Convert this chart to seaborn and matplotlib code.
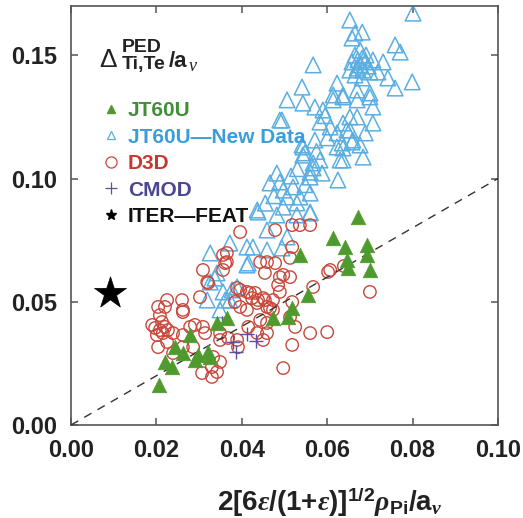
import numpy as np
import pandas as pd
import matplotlib
matplotlib.use("Agg")
import matplotlib.pyplot as plt
import seaborn as sns
from matplotlib.lines import Line2D
from matplotlib import font_manager as fm

# ---------------- data ----------------
jt60u_x = [0.0206, 0.0220, 0.0237, 0.0244, 0.0262, 0.0279, 0.0290, 0.0297, 0.0321,
           0.0326, 0.0342, 0.0365, 0.0473, 0.0508, 0.0518, 0.0536, 0.0555, 0.0614,
           0.0642, 0.0646, 0.0649, 0.0672, 0.0693, 0.0693, 0.0700]
jt60u_y = [0.0162, 0.0256, 0.0235, 0.0316, 0.0292, 0.0365, 0.0264, 0.0284, 0.0296,
           0.0276, 0.0414, 0.0434, 0.0434, 0.0438, 0.0475, 0.0690, 0.0527, 0.0759,
           0.0722, 0.0669, 0.0637, 0.0844, 0.0730, 0.0690, 0.0629]

new_x = [0.0326, 0.0415, 0.0342, 0.0326, 0.0356, 0.0319, 0.0361, 0.0349, 0.0372, 0.0377,
         0.0438, 0.0459, 0.0372, 0.0412, 0.0426, 0.0459, 0.0494, 0.0506, 0.0412, 0.0337,
         0.0389, 0.0560, 0.0529, 0.0482,
         0.0494, 0.0541, 0.0571, 0.0543, 0.0583, 0.0567, 0.0560, 0.0588, 0.0625, 0.0630,
         0.0482, 0.0466, 0.0489, 0.0497, 0.0506, 0.0520, 0.0536, 0.0560, 0.0436, 0.0497,
         0.0529, 0.0560, 0.0583, 0.0607, 0.0623, 0.0637, 0.0653, 0.0653, 0.0635, 0.0658,
         0.0670,
         0.0543, 0.0571, 0.0590, 0.0614, 0.0637, 0.0670, 0.0700, 0.0707, 0.0689, 0.0646,
         0.0623, 0.0637, 0.0660, 0.0677, 0.0684, 0.0637, 0.0543, 0.0548, 0.0567, 0.0560,
         0.0801, 0.0653, 0.0665, 0.0682, 0.0658, 0.0759, 0.0771, 0.0731, 0.0742, 0.0759,
         0.0799, 0.0719, 0.0707, 0.0700, 0.0707, 0.0670, 0.0623, 0.0614, 0.0637, 0.0567,
         0.0541, 0.0506, 0.0489,
         0.0665, 0.0672, 0.0682, 0.0689, 0.0677, 0.0670, 0.0684, 0.0696, 0.0658, 0.0691,
         0.0677, 0.0700, 0.0665, 0.0682, 0.0653,
         0.0515, 0.0548, 0.0575, 0.0600, 0.0475, 0.0455, 0.0530, 0.0595]
new_y = [0.0698, 0.0657, 0.0617, 0.0580, 0.0540, 0.0507, 0.0507, 0.0467, 0.0507, 0.0548,
         0.0864, 0.0791, 0.0738, 0.0722, 0.0722, 0.0710, 0.0718, 0.0763, 0.0649, 0.0596,
         0.0560, 0.0860, 0.0852, 0.0852,
         0.1237, 0.1136, 0.1156, 0.1095, 0.1075, 0.1043, 0.1006, 0.1022, 0.0994, 0.1075,
         0.1022, 0.0982, 0.0986, 0.0953, 0.0925, 0.0966, 0.0925, 0.0941, 0.0872, 0.0884,
         0.0901, 0.0864, 0.1229, 0.1209, 0.1185, 0.1225, 0.1250, 0.1197, 0.1144, 0.1148,
         0.1250,
         0.1306, 0.1290, 0.1278, 0.1339, 0.1339, 0.1319, 0.1347, 0.1225, 0.1185, 0.1197,
         0.1128, 0.1124, 0.1156, 0.1136, 0.1087, 0.1075, 0.1128, 0.1104, 0.1063, 0.1026,
         0.1671, 0.1643, 0.1590, 0.1594, 0.1570, 0.1542, 0.1513, 0.1473, 0.1408, 0.1367,
         0.1392, 0.1432, 0.1481, 0.1331, 0.1290, 0.1359, 0.1387, 0.1319, 0.1331, 0.1461,
         0.1371, 0.1319, 0.1237,
         0.1501, 0.1481, 0.1489, 0.1473, 0.1461, 0.1448, 0.1440, 0.1456, 0.1473, 0.1501,
         0.1521, 0.1432, 0.1420, 0.1408, 0.1440,
         0.1010, 0.0975, 0.1110, 0.1165, 0.0930, 0.0900, 0.1040, 0.1255]

d3d_x = [0.0396, 0.0518, 0.0536, 0.0560, 0.0478, 0.0365, 0.0365, 0.0443, 0.0459, 0.0478,
         0.0513, 0.0518, 0.0309, 0.0356, 0.0489, 0.0602, 0.0319, 0.0485, 0.0389, 0.0513,
         0.0567, 0.0225, 0.0260, 0.0302, 0.0419, 0.0438, 0.0454, 0.0473, 0.0424, 0.0436,
         0.0459, 0.0384, 0.0396, 0.0204, 0.0220, 0.0208, 0.0262, 0.0412, 0.0473, 0.0513,
         0.0279, 0.0290, 0.0309, 0.0314, 0.0190, 0.0197, 0.0208, 0.0220, 0.0227, 0.0201,
         0.0215, 0.0239, 0.0262, 0.0204, 0.0225, 0.0349, 0.0349, 0.0368, 0.0389, 0.0415,
         0.0436, 0.0450, 0.0459, 0.0459, 0.0525, 0.0560, 0.0600, 0.0518, 0.0391, 0.0333,
         0.0349, 0.0330, 0.0307, 0.0330, 0.0342, 0.0497, 0.0700, 0.0239, 0.0262, 0.0286,
         0.0356, 0.0361, 0.0321, 0.0262, 0.0213, 0.0396, 0.0412, 0.0431, 0.0454, 0.0497,
         0.0489, 0.0450, 0.0466, 0.0518, 0.0639, 0.0607, 0.0443]
d3d_y = [0.0783, 0.0811, 0.0811, 0.0811, 0.0791, 0.0698, 0.0661, 0.0661, 0.0661, 0.0657,
         0.0678, 0.0722, 0.0629, 0.0629, 0.0600, 0.0621, 0.0580, 0.0568, 0.0556, 0.0600,
         0.0560, 0.0507, 0.0507, 0.0519, 0.0536, 0.0507, 0.0507, 0.0507, 0.0515, 0.0495,
         0.0479, 0.0499, 0.0479, 0.0479, 0.0479, 0.0446, 0.0467, 0.0467, 0.0467, 0.0438,
         0.0398, 0.0406, 0.0398, 0.0373, 0.0406, 0.0394, 0.0385, 0.0398, 0.0385, 0.0365,
         0.0373, 0.0373, 0.0365, 0.0316, 0.0337, 0.0373, 0.0345, 0.0353, 0.0345, 0.0398,
         0.0373, 0.0345, 0.0414, 0.0373, 0.0398, 0.0373, 0.0377, 0.0325, 0.0316, 0.0276,
         0.0256, 0.0235, 0.0211, 0.0195, 0.0215, 0.0231, 0.0540, 0.0292, 0.0316, 0.0316,
         0.0690, 0.0657, 0.0576, 0.0458, 0.0418, 0.0548, 0.0540, 0.0536, 0.0617, 0.0609,
         0.0540, 0.0515, 0.0475, 0.0499, 0.0645, 0.0629, 0.0426]

cmod_x = [0.0354, 0.0379, 0.0386, 0.0412, 0.0433]
cmod_y = [0.0414, 0.0337, 0.0296, 0.0369, 0.0341]

iter_x = [0.0092]
iter_y = [0.0535]

ref_x = [0.0, 0.1]
ref_y = [0.0, 0.1]

labels = ["JT60U", "JT60U\u2014New Data", "D3D", "CMOD", "ITER\u2014FEAT"]
x_ticks = [0.00, 0.02, 0.04, 0.06, 0.08, 0.10]
y_ticks = [0.00, 0.05, 0.10, 0.15]

GREEN = "#4f9a2e"
BLUE = "#5aaee2"
RED = "#c8483c"
PURPLE = "#5b4f9f"
TXT_GREEN = "#3f8f34"
TXT_BLUE = "#3b9ddb"
TXT_RED = "#c43b2e"
TXT_PURPLE = "#4c4592"
DARK = "#222222"

# ---------------- style ----------------
sns.set_theme(style="ticks")
names = {f.name for f in fm.fontManager.ttflist}
sans = "Liberation Sans Narrow" if "Liberation Sans Narrow" in names else "Liberation Sans"
plt.rcParams["font.family"] = [sans, "DejaVu Sans"]
plt.rcParams["font.weight"] = "bold"
plt.rcParams["mathtext.fontset"] = "custom"
plt.rcParams["mathtext.rm"] = sans
plt.rcParams["mathtext.sf"] = sans
plt.rcParams["mathtext.bf"] = sans + ":bold"
plt.rcParams["mathtext.it"] = "Liberation Serif:italic"

df = pd.concat([
    pd.DataFrame({"x": new_x, "y": new_y, "set": labels[1]}),
    pd.DataFrame({"x": d3d_x, "y": d3d_y, "set": labels[2]}),
    pd.DataFrame({"x": cmod_x, "y": cmod_y, "set": labels[3]}),
    pd.DataFrame({"x": jt60u_x, "y": jt60u_y, "set": labels[0]}),
    pd.DataFrame({"x": iter_x, "y": iter_y, "set": labels[4]}),
], ignore_index=True)

fig = plt.figure(figsize=(5.23, 5.18), dpi=100)
ax = fig.add_axes([0.1358, 0.1795, 0.8164, 0.8089])

sub = df[df["set"] == labels[1]]
sns.scatterplot(data=sub, x="x", y="y", ax=ax, marker="^", s=125,
                facecolors="none", edgecolor=BLUE, linewidth=1.1, zorder=2, legend=False)
sub = df[df["set"] == labels[2]]
sns.scatterplot(data=sub, x="x", y="y", ax=ax, marker="o", s=80,
                facecolors="none", edgecolor=RED, linewidth=1.0, zorder=3, legend=False)
sub = df[df["set"] == labels[3]]
sns.scatterplot(data=sub, x="x", y="y", ax=ax, marker="+", s=90,
                color=PURPLE, linewidth=1.0, zorder=4, legend=False)
sub = df[df["set"] == labels[0]]
sns.scatterplot(data=sub, x="x", y="y", ax=ax, marker="^", s=110,
                color=GREEN, edgecolor=GREEN, linewidth=0.5, zorder=5, legend=False)
sub = df[df["set"] == labels[4]]
sns.scatterplot(data=sub, x="x", y="y", ax=ax, marker="*", s=580,
                color="black", edgecolor="black", linewidth=0.5, zorder=6, legend=False)

ax.plot(ref_x, ref_y, ls=(0, (6, 5)), color="#333333", lw=1.0, zorder=4.5)

ax.set_xlim(0, 0.1)
ax.set_ylim(0, 0.17)
ax.set_xticks(x_ticks)
ax.set_yticks(y_ticks)
ax.set_xticklabels([f"{v:.2f}" for v in x_ticks])
ax.set_yticklabels([f"{v:.2f}" for v in y_ticks])
ax.tick_params(direction="in", length=5, width=1.1, color="#555555",
               top=True, right=True, labelsize=17, pad=10, labelcolor=DARK)
for t in ax.get_xticklabels() + ax.get_yticklabels():
    t.set_fontweight("bold")
for sp in ax.spines.values():
    sp.set_color("#555555")
    sp.set_linewidth(1.2)


def fx(px):
    return (px - 71) / 427.0


def fy(py):
    return (425 - py) / 419.0


ax.set_xlabel(r"$\mathbf{2[6}\varepsilon\mathbf{/(1{+}}\varepsilon\mathbf{)]}^{\mathbf{1/2}}"
              r"\rho_{\mathbf{Pi}}\mathbf{/a}_{\nu}$", fontsize=20, color=DARK)
ax.xaxis.set_label_coords(fx(330), fy(486))
ax.set_ylabel("")

# y-quantity label drawn as pieces so sub/superscripts keep their large size
ax.text(fx(99), fy(67), "\u0394", transform=ax.transAxes, fontsize=19,
        fontweight="normal", color=DARK, va="baseline", ha="left")
ax.text(fx(122), fy(52), "PED", transform=ax.transAxes, fontsize=14,
        fontweight="bold", color=DARK, va="baseline", ha="left")
ax.text(fx(122), fy(69), "Ti,Te", transform=ax.transAxes, fontsize=14,
        fontweight="bold", color=DARK, va="baseline", ha="left")
ax.text(fx(169), fy(67), "/a", transform=ax.transAxes, fontsize=16,
        fontweight="bold", color=DARK, va="baseline", ha="left")
ax.text(fx(189), fy(71), "\u03bd", transform=ax.transAxes, fontsize=13,
        family="Liberation Serif", style="italic", fontweight="normal",
        color=DARK, va="baseline", ha="left")

handles = [
    Line2D([], [], ls="", marker="^", markersize=6, mfc=GREEN, mec=GREEN),
    Line2D([], [], ls="", marker="^", markersize=6, mfc="none", mec=BLUE, mew=0.9),
    Line2D([], [], ls="", marker="o", markersize=8, mfc="none", mec=RED, mew=0.9),
    Line2D([], [], ls="", marker="+", markersize=9, mec=PURPLE, mew=0.9),
    Line2D([], [], ls="", marker="*", markersize=8, mfc="black", mec="black"),
]
leg = ax.legend(handles, labels, loc="upper left", bbox_to_anchor=(0.075, 0.773),
                frameon=False, fontsize=15, handlelength=0.8, handletextpad=0.4,
                labelspacing=0.36, borderpad=0, borderaxespad=0)
for t, c in zip(leg.get_texts(), [TXT_GREEN, TXT_BLUE, TXT_RED, TXT_PURPLE, "#111111"]):
    t.set_color(c)
    t.set_fontweight("bold")

fig.savefig("out.png", dpi=100)
